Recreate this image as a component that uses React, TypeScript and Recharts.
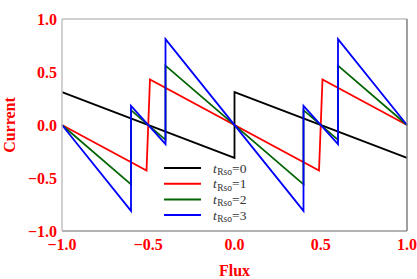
import { Legend, Line, LineChart, XAxis, YAxis } from "recharts";

// sawtooth currents vs flux for four t_Rso values
const fluxT0 = [-1, 0, 0, 1];
const currentT0 = [0.31, -0.31, 0.31, -0.31];

const fluxT1 = [-1, -0.51, -0.49, 0.49, 0.51, 1];
const currentT1 = [0, -0.43, 0.43, -0.43, 0.43, 0];

const fluxT2 = [-1, -0.6, -0.6, -0.4, -0.4, 0.4, 0.4, 0.6, 0.6, 1];
const currentT2 = [0, -0.56, 0.14, -0.14, 0.56, -0.56, 0.14, -0.14, 0.56, 0];

const fluxT3 = [-1, -0.6, -0.6, -0.4, -0.4, 0.4, 0.4, 0.6, 0.6, 1];
const currentT3 = [0, -0.81, 0.18, -0.18, 0.81, -0.81, 0.18, -0.18, 0.81, 0];

const xTicks = [-1, -0.5, 0, 0.5, 1];
const yTicks = [-1, -0.5, 0, 0.5, 1];
const innerTicks = [-0.5, 0, 0.5];

const toPoints = (xs: number[], ys: number[]) =>
  xs.map((x, i) => ({ x, y: ys[i] }));

const series = [
  { name: "0", color: "#000000", data: toPoints(fluxT0, currentT0) },
  { name: "1", color: "#ff0000", data: toPoints(fluxT1, currentT1) },
  { name: "2", color: "#006400", data: toPoints(fluxT2, currentT2) },
  { name: "3", color: "#0000ff", data: toPoints(fluxT3, currentT3) },
];

const serif = "'Liberation Serif', 'Times New Roman', serif";
const red = "#ff0000";

const fmt = (v: number) =>
  v < 0 ? `\u2212${Math.abs(v).toFixed(1)}` : v.toFixed(1);

const tickStyle = {
  fill: red,
  fontSize: 16,
  fontWeight: 700,
  fontFamily: serif,
};

const LegendBox = () => (
  <svg width={110} height={64} style={{ display: "block" }}>
    {series.map((s, i) => {
      const cy = 8 + i * 15.7;
      return (
        <g key={s.name}>
          <line x1={0} x2={37} y1={cy} y2={cy} stroke={s.color} strokeWidth={2} />
          <text x={49} y={cy + 4.5} fontFamily={serif} fontSize={13.5} fill="#333">
            <tspan fontStyle="italic">t</tspan>
            <tspan fontSize={9.5} dy={2.5} dx={0.5}>
              Rso
            </tspan>
            <tspan dy={-2.5}>={s.name}</tspan>
          </text>
        </g>
      );
    })}
  </svg>
);

const YTitle = (props: any) => {
  const { viewBox } = props;
  const x = viewBox.x + 15;
  const y = viewBox.y + viewBox.height / 2;
  return (
    <text
      x={x}
      y={y}
      transform={`rotate(-90 ${x} ${y})`}
      textAnchor="middle"
      fill={red}
      fontSize={16}
      fontWeight={700}
      fontFamily={serif}
    >
      Current
    </text>
  );
};

export default function App() {
  return (
    <div style={{ position: "absolute", left: 0, top: 0, background: "#fff" }}>
      <LineChart
        width={417}
        height={279}
        margin={{ top: 19, right: 10, bottom: 0, left: 0 }}
      >
        {/* labelled axes */}
        <XAxis
          xAxisId="b"
          dataKey="x"
          type="number"
          domain={[-1, 1]}
          ticks={xTicks}
          tickFormatter={fmt}
          height={48}
          tickLine={false}
          tickSize={0}
          tickMargin={8}
          axisLine={{ stroke: "#999", strokeWidth: 1.5 }}
          tick={tickStyle}
          label={{
            value: "Flux",
            position: "insideBottom",
            offset: 3,
            fill: red,
            fontSize: 16,
            fontWeight: 700,
            fontFamily: serif,
          }}
        />
        <YAxis
          yAxisId="l"
          type="number"
          domain={[-1, 1]}
          ticks={yTicks}
          tickFormatter={fmt}
          width={62}
          tickLine={false}
          tickSize={0}
          tickMargin={5}
          axisLine={{ stroke: "#c0c0c0", strokeWidth: 1.5 }}
          tick={tickStyle}
          label={<YTitle />}
        />
        {/* inward tick marks and frame */}
        <XAxis
          xAxisId="bm"
          type="number"
          domain={[-1, 1]}
          ticks={innerTicks}
          mirror
          tick={false}
          axisLine={false}
          tickSize={6}
          tickLine={{ stroke: "#888", strokeWidth: 1.2 }}
        />
        <XAxis
          xAxisId="t"
          orientation="top"
          type="number"
          domain={[-1, 1]}
          ticks={innerTicks}
          mirror
          tick={false}
          tickSize={6}
          axisLine={{ stroke: "#c0c0c0", strokeWidth: 1.5 }}
          tickLine={{ stroke: "#888", strokeWidth: 1.2 }}
        />
        <YAxis
          yAxisId="lm"
          type="number"
          domain={[-1, 1]}
          ticks={innerTicks}
          mirror
          tick={false}
          axisLine={false}
          tickSize={6}
          tickLine={{ stroke: "#888", strokeWidth: 1.2 }}
        />
        <YAxis
          yAxisId="r"
          orientation="right"
          type="number"
          domain={[-1, 1]}
          ticks={innerTicks}
          mirror
          tick={false}
          tickSize={6}
          axisLine={{ stroke: "#808080", strokeWidth: 1.5 }}
          tickLine={{ stroke: "#888", strokeWidth: 1.2 }}
        />
        {series.map((s) => (
          <Line
            key={s.name}
            xAxisId="b"
            yAxisId="l"
            data={s.data}
            dataKey="y"
            type="linear"
            stroke={s.color}
            strokeWidth={1.8}
            dot={false}
            activeDot={false}
            isAnimationActive={false}
          />
        ))}
        <Legend
          layout="vertical"
          align="center"
          verticalAlign="middle"
          content={() => <LegendBox />}
          wrapperStyle={{ left: 164, top: 160, width: 110, height: 64 }}
        />
      </LineChart>
    </div>
  );
}
